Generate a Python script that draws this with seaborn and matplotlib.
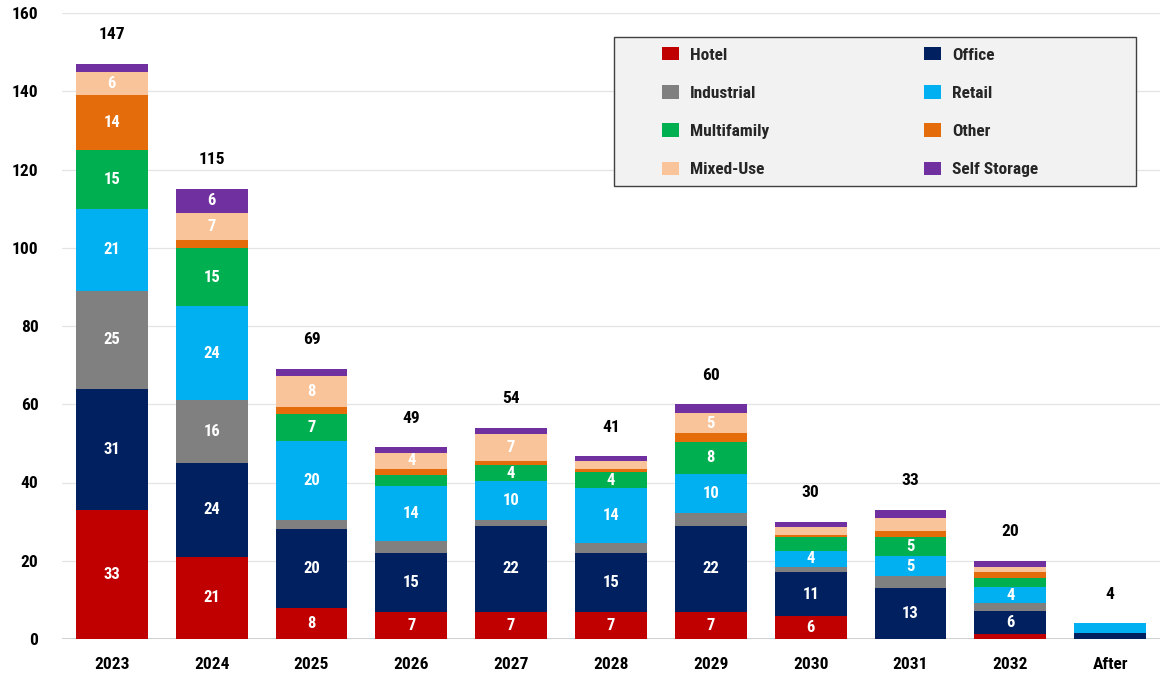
import matplotlib
matplotlib.use("Agg")
import matplotlib.pyplot as plt
from matplotlib.patches import Patch, Rectangle
import seaborn as sns
import numpy as np
import pandas as pd

# Maturity year buckets
years = ["2023", "2024", "2025", "2026", "2027", "2028", "2029", "2030", "2031", "2032", "After"]

# Volume by property type (stacked bottom to top)
hotel        = [33, 21, 8, 7, 7, 7, 7, 6, 0, 1.2, 0]
office       = [31, 24, 20, 15, 22, 15, 22, 11, 13, 6, 1.5]
industrial   = [25, 16, 2.5, 3, 1.4, 2.6, 3.3, 1.5, 3.1, 2.0, 0]
retail       = [21, 24, 20, 14, 10, 14, 10, 4, 5, 4, 2.5]
multifamily  = [15, 15, 7, 3, 4, 4, 8, 3.6, 5, 2.4, 0]
other        = [14, 2, 1.8, 1.5, 1.0, 0.8, 2.4, 0.5, 1.6, 1.4, 0]
mixed_use    = [6, 7, 8, 4, 7, 2.0, 5, 2.1, 3.3, 1.3, 0]
self_storage = [2, 6, 1.7, 1.5, 1.6, 1.3, 2.3, 1.3, 2.0, 1.7, 0]

# Reported totals per bucket
totals = [147, 115, 69, 49, 54, 41, 60, 30, 33, 20, 4]

series = [
    ("Hotel", hotel, "#C00000"),
    ("Office", office, "#002060"),
    ("Industrial", industrial, "#808080"),
    ("Retail", retail, "#00B0F0"),
    ("Multifamily", multifamily, "#00B050"),
    ("Other", other, "#E46C0A"),
    ("Mixed-Use", mixed_use, "#F9C49A"),
    ("Self Storage", self_storage, "#7030A0"),
]

sns.set_theme(style="white")
FONT = ["Roboto Condensed", "Roboto", "DejaVu Sans"]
plt.rcParams["font.family"] = FONT
plt.rcParams["font.weight"] = "bold"
FS = 12.5

W, H = 1161, 677
fig = plt.figure(figsize=(W / 100, H / 100), dpi=100)
fig.patch.set_facecolor("white")
ax = fig.add_axes([62 / W, 1 - 639 / H, (1160 - 62) / W, (639 - 13) / H])

bottom = np.zeros(len(years))
for name, vals, color in series:
    vals = np.asarray(vals, dtype=float)
    df = pd.DataFrame({"year": years, "value": vals})
    sns.barplot(data=df, x="year", y="value", order=years, color=color,
                saturation=1, width=0.72, bottom=bottom, linewidth=0,
                errorbar=None, ax=ax, zorder=3)
    for i, v in enumerate(vals):
        if v >= 4:
            ax.text(i, bottom[i] + v / 2, f"{v:.0f}", ha="center", va="center",
                    color="white", fontsize=12, fontweight="bold", zorder=4)
    bottom = bottom + vals

for i, t in enumerate(totals):
    ax.annotate(f"{t}", xy=(i, bottom[i]), xytext=(0, 21), textcoords="offset points",
                ha="center", va="center", fontsize=FS, fontweight="bold", color="black")

ax.set_xlim(-0.5, 10.5)
ax.set_ylim(0, 160)
ax.set_yticks(np.arange(0, 161, 20))
ax.yaxis.grid(True, color="#E4E4E4", linewidth=0.9, zorder=0)
ax.set_axisbelow(True)
ax.axhline(0, color="#C8C8C8", linewidth=1.2, zorder=2)
for s in ax.spines.values():
    s.set_visible(False)
ax.set_xlabel("")
ax.set_ylabel("")
ax.tick_params(axis="both", length=0, labelsize=FS, colors="black")
ax.tick_params(axis="y", pad=17)
ax.tick_params(axis="x", pad=13)
for lab in ax.get_xticklabels() + ax.get_yticklabels():
    lab.set_fontweight("bold")

# Legend box
fig.patches.append(Rectangle((614 / W, 1 - 186 / H), 522 / W, 149 / H,
                             transform=fig.transFigure, facecolor="#F2F2F2",
                             edgecolor="#404040", linewidth=1.0, zorder=5))

def make_legend(items, x_px):
    handles = [Patch(facecolor=c, edgecolor="none", label=n) for n, _, c in items]
    leg = fig.legend(handles=handles, loc="upper left",
                     bbox_to_anchor=(x_px / W, 1 - 47 / H), bbox_transform=fig.transFigure,
                     frameon=False, borderpad=0, borderaxespad=0,
                     handlelength=1.0, handleheight=0.8, handletextpad=0.6,
                     labelspacing=1.3, prop={"size": FS, "weight": "bold", "family": FONT})
    leg.set_zorder(6)
    return leg

left_items = [series[0], series[2], series[4], series[6]]
right_items = [series[1], series[3], series[5], series[7]]
make_legend(left_items, 662)
make_legend(right_items, 924)

fig.savefig("out.png", dpi=100)
